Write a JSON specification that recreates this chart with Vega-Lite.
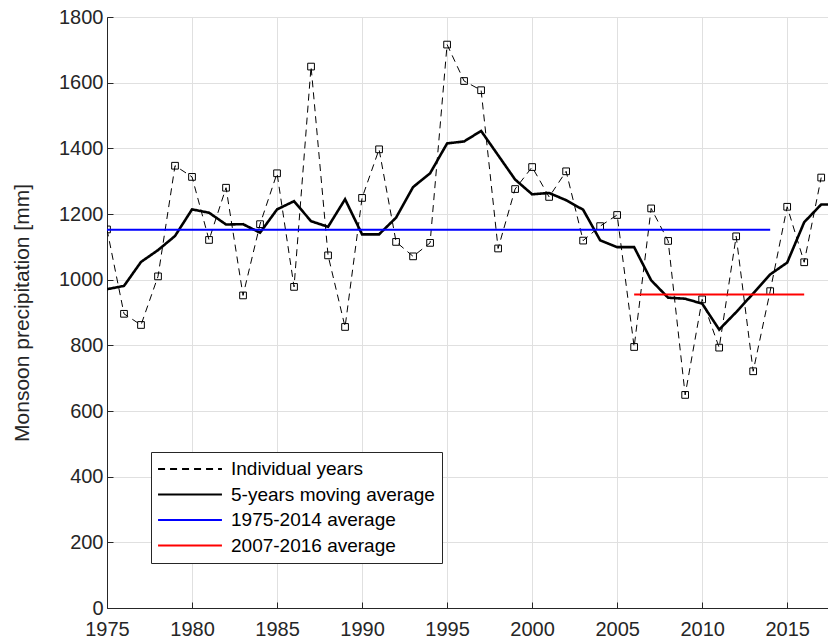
{
  "$schema": "https://vega.github.io/schema/vega-lite/v6.json",
  "autosize": "none",
  "width": 721,
  "height": 591,
  "padding": {"left": 107, "top": 17, "right": 0, "bottom": 32},
  "background": "white",
  "config": {
    "font": "Liberation Sans",
    "view": {"stroke": "#262626", "strokeWidth": 1},
    "axis": {
      "domainColor": "#262626",
      "tickColor": "#262626",
      "labelColor": "#262626",
      "titleColor": "#262626",
      "labelFont": "Liberation Sans",
      "titleFont": "Liberation Sans",
      "labelFontSize": 20,
      "titleFontSize": 21,
      "titleFontWeight": "normal",
      "gridColor": "#e0e0e0",
      "gridWidth": 1,
      "tickSize": -6
    },
    "legend": {
      "labelFont": "Liberation Sans",
      "labelFontSize": 19,
      "labelColor": "#000000",
      "labelLimit": 400,
      "symbolType": "M-3.55,0H3.55",
      "symbolSize": 324,
      "symbolStrokeWidth": 2,
      "symbolOffset": 22,
      "labelOffset": 31,
      "rowPadding": 5.5,
      "padding": 7,
      "strokeColor": "#262626",
      "fillColor": "white"
    }
  },
  "data": {
    "values": [
      {"series": "Individual years", "year": 1975, "value": 1153},
      {"series": "Individual years", "year": 1976, "value": 896},
      {"series": "Individual years", "year": 1977, "value": 862},
      {"series": "Individual years", "year": 1978, "value": 1010},
      {"series": "Individual years", "year": 1979, "value": 1347},
      {"series": "Individual years", "year": 1980, "value": 1313},
      {"series": "Individual years", "year": 1981, "value": 1121},
      {"series": "Individual years", "year": 1982, "value": 1280},
      {"series": "Individual years", "year": 1983, "value": 952},
      {"series": "Individual years", "year": 1984, "value": 1169},
      {"series": "Individual years", "year": 1985, "value": 1324},
      {"series": "Individual years", "year": 1986, "value": 978},
      {"series": "Individual years", "year": 1987, "value": 1649},
      {"series": "Individual years", "year": 1988, "value": 1074},
      {"series": "Individual years", "year": 1989, "value": 856},
      {"series": "Individual years", "year": 1990, "value": 1249},
      {"series": "Individual years", "year": 1991, "value": 1397},
      {"series": "Individual years", "year": 1992, "value": 1115},
      {"series": "Individual years", "year": 1993, "value": 1071},
      {"series": "Individual years", "year": 1994, "value": 1112},
      {"series": "Individual years", "year": 1995, "value": 1716},
      {"series": "Individual years", "year": 1996, "value": 1605},
      {"series": "Individual years", "year": 1997, "value": 1577},
      {"series": "Individual years", "year": 1998, "value": 1095},
      {"series": "Individual years", "year": 1999, "value": 1276},
      {"series": "Individual years", "year": 2000, "value": 1343},
      {"series": "Individual years", "year": 2001, "value": 1252},
      {"series": "Individual years", "year": 2002, "value": 1330},
      {"series": "Individual years", "year": 2003, "value": 1119},
      {"series": "Individual years", "year": 2004, "value": 1163},
      {"series": "Individual years", "year": 2005, "value": 1197},
      {"series": "Individual years", "year": 2006, "value": 795},
      {"series": "Individual years", "year": 2007, "value": 1217},
      {"series": "Individual years", "year": 2008, "value": 1118},
      {"series": "Individual years", "year": 2009, "value": 649},
      {"series": "Individual years", "year": 2010, "value": 940},
      {"series": "Individual years", "year": 2011, "value": 793},
      {"series": "Individual years", "year": 2012, "value": 1132},
      {"series": "Individual years", "year": 2013, "value": 721},
      {"series": "Individual years", "year": 2014, "value": 965},
      {"series": "Individual years", "year": 2015, "value": 1222},
      {"series": "Individual years", "year": 2016, "value": 1053},
      {"series": "Individual years", "year": 2017, "value": 1311},
      {"series": "5-years moving average", "year": 1975, "value": 971},
      {"series": "5-years moving average", "year": 1976, "value": 981},
      {"series": "5-years moving average", "year": 1977, "value": 1054},
      {"series": "5-years moving average", "year": 1978, "value": 1090},
      {"series": "5-years moving average", "year": 1979, "value": 1133},
      {"series": "5-years moving average", "year": 1980, "value": 1214},
      {"series": "5-years moving average", "year": 1981, "value": 1204},
      {"series": "5-years moving average", "year": 1982, "value": 1168},
      {"series": "5-years moving average", "year": 1983, "value": 1169},
      {"series": "5-years moving average", "year": 1984, "value": 1143},
      {"series": "5-years moving average", "year": 1985, "value": 1214},
      {"series": "5-years moving average", "year": 1986, "value": 1239},
      {"series": "5-years moving average", "year": 1987, "value": 1178},
      {"series": "5-years moving average", "year": 1988, "value": 1161},
      {"series": "5-years moving average", "year": 1989, "value": 1245},
      {"series": "5-years moving average", "year": 1990, "value": 1138},
      {"series": "5-years moving average", "year": 1991, "value": 1138},
      {"series": "5-years moving average", "year": 1992, "value": 1189},
      {"series": "5-years moving average", "year": 1993, "value": 1282},
      {"series": "5-years moving average", "year": 1994, "value": 1324},
      {"series": "5-years moving average", "year": 1995, "value": 1415},
      {"series": "5-years moving average", "year": 1996, "value": 1421},
      {"series": "5-years moving average", "year": 1997, "value": 1453},
      {"series": "5-years moving average", "year": 1998, "value": 1379},
      {"series": "5-years moving average", "year": 1999, "value": 1305},
      {"series": "5-years moving average", "year": 2000, "value": 1260},
      {"series": "5-years moving average", "year": 2001, "value": 1264},
      {"series": "5-years moving average", "year": 2002, "value": 1242},
      {"series": "5-years moving average", "year": 2003, "value": 1213},
      {"series": "5-years moving average", "year": 2004, "value": 1120},
      {"series": "5-years moving average", "year": 2005, "value": 1099},
      {"series": "5-years moving average", "year": 2006, "value": 1099},
      {"series": "5-years moving average", "year": 2007, "value": 998},
      {"series": "5-years moving average", "year": 2008, "value": 945},
      {"series": "5-years moving average", "year": 2009, "value": 942},
      {"series": "5-years moving average", "year": 2010, "value": 927},
      {"series": "5-years moving average", "year": 2011, "value": 848},
      {"series": "5-years moving average", "year": 2012, "value": 901},
      {"series": "5-years moving average", "year": 2013, "value": 958},
      {"series": "5-years moving average", "year": 2014, "value": 1016},
      {"series": "5-years moving average", "year": 2015, "value": 1052},
      {"series": "5-years moving average", "year": 2016, "value": 1175},
      {"series": "5-years moving average", "year": 2017, "value": 1229},
      {"series": "5-years moving average", "year": 2018, "value": 1229},
      {"series": "1975-2014 average", "year": 1975, "value": 1152},
      {"series": "1975-2014 average", "year": 2014, "value": 1152},
      {"series": "2007-2016 average", "year": 2006, "value": 955},
      {"series": "2007-2016 average", "year": 2016, "value": 955}
    ]
  },
  "encoding": {
    "x": {
      "field": "year",
      "type": "quantitative",
      "scale": {"domain": [1975, 2017.4], "nice": false, "zero": false},
      "axis": {
        "title": null,
        "values": [1975, 1980, 1985, 1990, 1995, 2000, 2005, 2010, 2015],
        "format": "d",
        "labelPadding": 17,
        "labelFlush": false,
        "labelOverlap": false
      }
    },
    "y": {
      "field": "value",
      "type": "quantitative",
      "scale": {"domain": [0, 1800], "nice": false},
      "axis": {
        "title": "Monsoon precipitation [mm]",
        "values": [0, 200, 400, 600, 800, 1000, 1200, 1400, 1600, 1800],
        "format": "d",
        "labelPadding": 10,
        "titlePadding": 26,
        "labelFlush": false,
        "labelOverlap": false
      }
    }
  },
  "layer": [
    {
      "transform": [{"filter": "datum.series === 'Individual years'"}],
      "mark": {"type": "line", "strokeWidth": 1, "clip": true},
      "encoding": {
        "color": {"field": "series", "type": "nominal",
          "scale": {"domain": ["Individual years", "5-years moving average", "1975-2014 average", "2007-2016 average"], "range": ["#000000", "#000000", "#0000ff", "#ff0000"]},
          "legend": {"title": null, "orient": "none", "legendX": 44, "legendY": 435}},
        "strokeDash": {"field": "series", "type": "nominal",
          "scale": {"domain": ["Individual years", "5-years moving average", "1975-2014 average", "2007-2016 average"], "range": [[7, 5], [1, 0], [1, 0], [1, 0]]},
          "legend": {"title": null, "orient": "none", "legendX": 44, "legendY": 435}}
      }
    },
    {
      "transform": [{"filter": "datum.series === 'Individual years'"}],
      "mark": {"type": "point", "shape": "square", "size": 45, "filled": false, "strokeWidth": 1, "color": "#000000", "opacity": 1, "clip": true}
    },
    {
      "transform": [{"filter": "datum.series === '5-years moving average'"}],
      "mark": {"type": "line", "strokeWidth": 2.6, "clip": true},
      "encoding": {
        "color": {"field": "series", "type": "nominal"},
        "strokeDash": {"field": "series", "type": "nominal"}
      }
    },
    {
      "transform": [{"filter": "datum.series === '1975-2014 average' || datum.series === '2007-2016 average'"}],
      "mark": {"type": "line", "strokeWidth": 2, "clip": true},
      "encoding": {
        "color": {"field": "series", "type": "nominal"},
        "strokeDash": {"field": "series", "type": "nominal"}
      }
    }
  ]
}
